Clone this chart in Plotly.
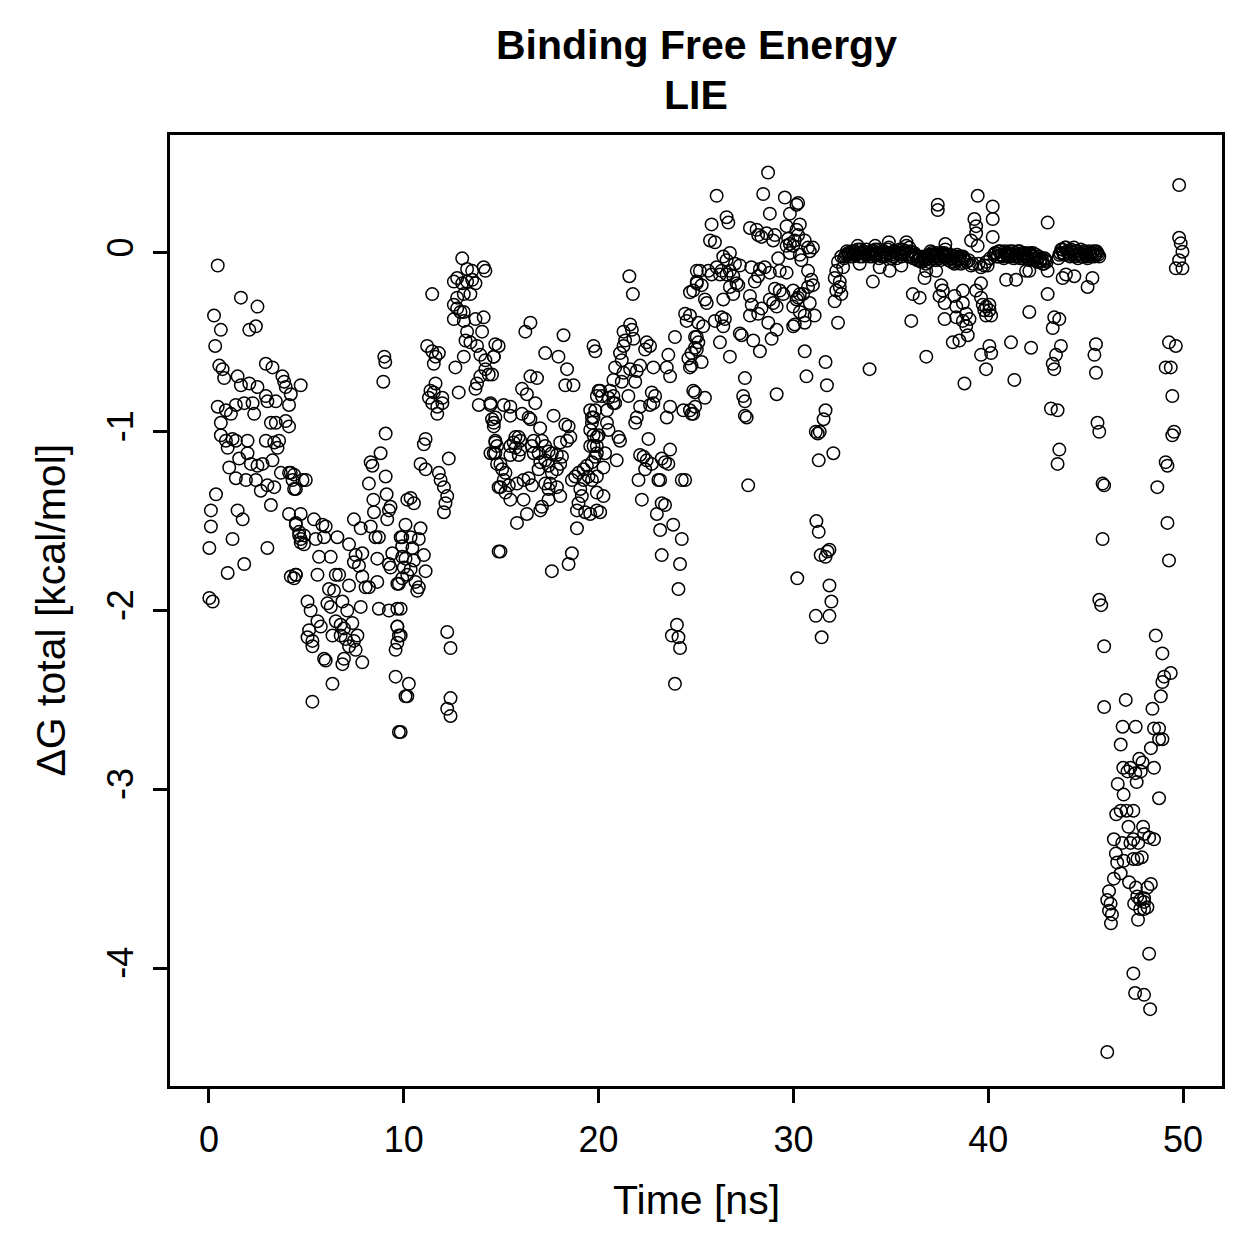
import plotly.graph_objects as go

# ---- data (time [ns], dG total [kcal/mol]) ----
t_a = [0.45,1.64,2.49,0.26,0.61,2.07,2.41,0.32,0.53,0.70,0.78,2.92,3.26,1.47,1.64,2.07,2.49,3.77,3.86,3.94,4.20,4.71,
       0.45,0.87,1.13,1.38,1.81,2.24,2.32,2.92,3.00,3.43,4.11,
       0.61,3.18,3.43,3.94,4.11,
       0.61,0.87,1.21,1.38,1.98,2.92,3.35,3.60,3.52,0.96,
       1.55,1.98,2.15,2.49,2.75,3.26,
       1.04,1.38,1.90,2.41,2.66,3.00,3.35,3.69,4.11,4.29,4.37,4.80,
       0.36,3.18,0.10,1.47,1.73,4.11,4.46,4.63,4.71,0.10,1.21,0.02,3.00,1.81,0.96,4.37,4.46,0.02,0.19]
g_a = [-0.07,-0.25,-0.30,-0.35,-0.43,-0.43,-0.41,-0.52,-0.63,-0.65,-0.70,-0.62,-0.64,-0.69,-0.74,-0.73,-0.75,-0.69,-0.72,-0.75,-0.79,-0.74,
       -0.86,-0.88,-0.90,-0.85,-0.84,-0.84,-0.90,-0.80,-0.83,-0.83,-0.85,
       -0.95,-0.95,-0.95,-0.94,-0.97,
       -1.02,-1.05,-1.04,-1.05,-1.05,-1.05,-1.06,-1.05,-1.09,-1.09,
       -1.15,-1.12,-1.18,-1.19,-1.18,-1.16,
       -1.20,-1.26,-1.27,-1.27,-1.33,-1.30,-1.31,-1.23,-1.23,-1.27,-1.32,-1.27,
       -1.35,-1.41,-1.44,-1.44,-1.49,-1.46,-1.52,-1.58,-1.62,-1.53,-1.60,-1.65,-1.65,-1.74,-1.79,-1.82,-1.80,-1.93,-1.95]

t_b = [9.07,8.81,8.30,8.39,9.07,4.20,4.37,4.97,4.46,8.21,9.12,9.32,9.24,9.15,8.44,8.47,10.18,
       4.71,5.39,4.46,5.82,5.99,7.44,7.79,8.30,
       4.63,4.88,4.71,4.88,5.48,5.91,6.59,7.19,8.55,8.72,9.92,
       5.65,6.25,7.53,7.87,8.64,9.41,9.92,
       7.44,7.70,9.24,9.32,
       5.57,6.51,6.68,4.20,4.46,
       7.19,7.87,8.04,8.21,8.64,9.67,
       6.16,6.42,
       5.06,5.22,6.08,6.25,6.85,7.10,7.79,8.72,9.24,9.67,
       5.57,5.74,6.51,6.76,6.93,7.36,9.67,9.75,9.58,
       5.14,5.06,5.31,5.31,
       6.34,6.76,7.02,7.44,7.62,7.53,7.19,
       5.91,5.99,6.85,6.93,7.87,
       9.58,6.34,5.31,9.75,10.09,
       9.00,9.05,8.95]
g_b = [-1.01,-1.12,-1.17,-1.19,-1.25,-1.23,-1.24,-1.27,-1.32,-1.29,-1.35,-1.42,-1.44,-1.49,-1.38,-1.45,-1.38,
       -1.46,-1.49,-1.51,-1.52,-1.53,-1.49,-1.54,-1.53,
       -1.56,-1.58,-1.60,-1.63,-1.60,-1.59,-1.59,-1.63,-1.59,-1.59,-1.59,
       -1.70,-1.70,-1.69,-1.68,-1.71,-1.68,-1.70,
       -1.73,-1.75,-1.74,-1.76,
       -1.80,-1.80,-1.80,-1.81,-1.80,
       -1.86,-1.81,-1.87,-1.87,-1.84,-1.85,
       -1.88,-1.89,
       -1.95,-2.00,-1.96,-1.98,-1.95,-2.00,-1.98,-1.99,-2.00,-1.99,
       -2.06,-2.09,-2.06,-2.08,-2.10,-2.07,-2.09,-2.14,-2.22,
       -2.11,-2.15,-2.17,-2.20,
       -2.14,-2.14,-2.16,-2.17,-2.14,-2.22,-2.20,
       -2.27,-2.28,-2.30,-2.27,-2.29,
       -2.37,-2.41,-2.51,-2.68,-2.48,
       -0.58,-0.61,-0.72]

t_c = [13.00,13.25,13.51,14.10,14.19,12.74,12.57,13.00,13.25,13.51,13.68,13.42,13.08,12.74,12.57,12.74,12.91,13.08,12.57,13.08,
       13.68,14.10,13.25,13.17,14.02,13.42,13.76,13.93,14.19,14.70,14.62,14.19,14.36,13.93,13.76,13.68,13.85,14.45,14.53,14.62,
       14.70,14.45,14.70,14.79,14.87,14.87,11.46,12.65,13.08,12.82,
       11.20,11.46,11.63,11.54,11.80,
       11.63,11.37,11.29,11.46,11.72,11.98,11.98,11.72,11.54,
       11.12,11.03,12.31,10.86,11.12,
       11.80,11.89,12.06,12.23,12.14,12.06,
       10.35,10.52,
       10.09,10.86,9.84,10.35,10.77,9.92,10.44,11.03,10.09,10.52,10.00,10.35,11.12,10.18,9.92,10.60,10.77,10.69,9.75,
       9.84,9.67,9.84,9.67,12.23,12.40,10.26,10.18,12.40,12.23,12.40,9.84]
g_c = [-0.03,-0.09,-0.10,-0.08,-0.10,-0.14,-0.16,-0.17,-0.16,-0.15,-0.17,-0.23,-0.23,-0.25,-0.29,-0.31,-0.33,-0.33,-0.37,-0.38,
       -0.37,-0.36,-0.44,-0.49,-0.44,-0.50,-0.52,-0.57,-0.60,-0.51,-0.58,-0.65,-0.68,-0.69,-0.73,-0.76,-0.85,-0.85,-0.93,-0.97,
       -1.05,-1.12,-1.12,-1.18,-1.31,-1.67,-0.23,-0.64,-0.58,-0.78,
       -0.52,-0.55,-0.58,-0.62,-0.56,
       -0.73,-0.77,-0.81,-0.84,-0.86,-0.81,-0.84,-0.90,-0.78,
       -1.04,-1.07,-1.15,-1.18,-1.21,
       -1.23,-1.27,-1.31,-1.36,-1.40,-1.45,
       -1.37,-1.40,
       -1.52,-1.54,-1.59,-1.59,-1.60,-1.64,-1.65,-1.69,-1.71,-1.72,-1.76,-1.77,-1.78,-1.80,-1.82,-1.84,-1.87,-1.89,-1.85,
       -1.99,-2.09,-2.14,-2.18,-2.12,-2.21,-2.41,-2.48,-2.49,-2.55,-2.59,-2.68]

t_d = [16.50,16.24,18.20,19.74,19.83,17.26,17.94,14.87,14.62,14.53,18.38,18.29,18.71,
       16.50,16.84,16.07,16.32,16.75,17.69,16.41,16.50,
       14.45,14.70,14.62,15.13,15.47,15.47,16.07,
       17.00,16.67,16.58,16.67,17.09,17.26,16.92,17.43,17.60,17.86,18.12,18.03,17.86,17.60,17.43,17.26,17.01,16.92,17.26,17.52,
       17.86,18.03,17.43,17.09,17.01,
       18.29,18.46,18.55,18.38,18.03,
       15.73,15.90,15.98,15.64,15.47,15.73,15.98,15.90,15.47,14.79,14.70,14.62,14.96,15.05,15.22,15.13,14.96,15.39,15.22,15.47,
       15.81,16.15,16.41,16.58,16.15,16.32,15.81,17.43,
       18.89,
       18.63,18.80,18.97,19.23,19.40,19.66,19.83,19.91,20.00,19.74,19.57,19.48,19.23,19.06,19.14,18.97,18.89,19.31,19.91,19.91,
       19.57,19.66,19.91,20.00,
       14.96,17.60,18.46,18.63]
g_d = [-0.39,-0.44,-0.46,-0.52,-0.55,-0.56,-0.58,-0.52,-0.58,-0.68,-0.65,-0.74,-0.74,
       -0.69,-0.70,-0.76,-0.79,-0.84,-0.91,-0.92,-0.93,
       -0.84,-0.92,-0.95,-0.85,-0.86,-0.91,-0.90,
       -0.98,-1.05,-1.08,-1.12,-1.05,-1.08,-1.12,-1.11,-1.12,-1.13,-1.14,-1.18,-1.21,-1.23,-1.19,-1.16,-1.17,-1.21,-1.29,-1.29,
       -1.31,-1.36,-1.38,-1.42,-1.44,
       -0.96,-0.97,-1.03,-1.05,-1.06,
       -1.03,-1.03,-1.05,-1.06,-1.08,-1.09,-1.10,-1.13,-1.13,-1.08,-1.06,-1.12,-1.18,-1.21,-1.23,-1.27,-1.31,-1.30,-1.34,-1.38,
       -1.29,-1.27,-1.26,-1.30,-1.38,-1.46,-1.51,-1.32,
       -1.54,
       -1.27,-1.25,-1.23,-1.21,-1.19,-1.17,-1.14,-1.08,-1.02,-1.02,-1.08,-1.25,-1.27,-1.32,-1.36,-1.40,-1.44,-1.45,-1.34,-1.44,
       -0.88,-0.92,-0.80,-0.77,
       -1.67,-1.78,-1.74,-1.68]

t_e = [21.58,21.76,25.04,25.04,24.69,24.44,24.52,23.92,25.04,25.04,
       21.62,21.28,21.71,21.36,21.79,21.28,21.10,21.19,22.47,22.64,22.39,23.58,24.61,24.69,
       20.85,21.28,21.62,21.96,22.13,22.81,23.50,23.67,21.19,21.88,
       20.76,20.59,20.76,20.85,20.08,20.17,20.51,21.53,19.83,19.74,19.66,20.43,20.43,20.51,20.76,
       22.73,22.90,22.64,22.81,22.13,21.96,21.88,23.67,23.50,24.35,24.69,24.77,24.95,
       19.57,19.91,19.74,19.91,20.33,21.02,21.10,20.93,20.25,19.91,19.66,19.57,20.08,20.25,22.56,22.13,22.31,22.47,22.73,22.39,
       22.05,22.22,23.24,23.41,23.58,23.67,23.07,23.16,23.24,23.41,22.99,23.16,23.83,24.27,23.24,24.18,24.10,24.02,23.76,24.10,
       24.18,23.92,24.27,24.44]
g_e = [-0.13,-0.23,-0.10,-0.17,-0.22,-0.34,-0.38,-0.47,-0.47,-0.54,
       -0.40,-0.44,-0.43,-0.49,-0.48,-0.52,-0.56,-0.60,-0.50,-0.52,-0.54,-0.57,-0.59,-0.64,
       -0.64,-0.67,-0.65,-0.66,-0.63,-0.64,-0.64,-0.69,-0.72,-0.72,
       -0.71,-0.77,-0.80,-0.84,-0.77,-0.80,-0.81,-0.80,-0.88,-0.92,-0.95,-0.88,-0.95,-0.99,-0.84,
       -0.78,-0.80,-0.85,-0.84,-0.86,-0.92,-0.95,-0.86,-0.92,-0.88,-0.88,-0.90,-0.78,
       -0.99,-1.03,-1.08,-1.12,-1.12,-1.03,-1.05,-1.16,-1.20,-1.25,-1.27,-1.46,-1.45,-1.36,-1.04,-1.13,-1.14,-1.16,-1.18,-1.21,
       -1.27,-1.38,-1.15,-1.17,-1.18,-1.10,-1.27,-1.27,-1.40,-1.41,-1.46,-1.55,-1.52,-1.60,-1.69,-1.74,-1.88,-2.08,-2.14,-2.15,
       -2.21,-2.41,-1.27,-1.27]

t_f = [28.70,26.06,28.45,29.56,29.82,30.16,28.79,26.57,26.66,25.80,
       27.77,28.11,28.19,28.36,28.62,29.05,28.96,29.65,29.73,29.82,30.07,30.16,
       25.72,25.97,
       26.74,26.40,26.57,29.22,29.65,29.82,29.99,
       25.20,25.63,26.06,26.31,26.74,27.00,27.25,25.80,26.23,26.57,26.91,27.08,25.04,25.29,24.86,27.84,28.28,28.53,28.79,28.19,
       29.30,29.65,
       28.02,26.74,27.17,26.91,26.40,25.46,25.55,27.77,27.86,29.05,29.30,29.48,29.99,30.33,28.79,28.96,29.14,28.36,28.19,27.77,
       29.99,30.16,
       24.69,25.12,25.37,25.97,26.31,26.48,26.40,24.95,25.12,24.95,24.77,24.77,25.29,26.23,26.74,27.25,27.34,27.94,28.28,28.71,
       28.88,29.14,29.99,
       27.51,27.42,27.51,27.51,27.60,29.14,24.86,25.46,24.95,24.86,27.68]
g_f = [0.45,0.32,0.33,0.31,0.22,0.27,0.22,0.20,0.17,0.16,
       0.14,0.13,0.10,0.09,0.11,0.10,0.07,0.15,0.08,0.05,0.07,0.13,
       0.07,0.06,
       0.00,-0.02,-0.04,-0.03,0.04,0.00,0.04,
       -0.10,-0.10,-0.08,-0.10,-0.10,-0.06,-0.07,-0.12,-0.12,-0.12,-0.13,-0.17,-0.16,-0.18,-0.21,-0.08,-0.09,-0.08,-0.11,-0.13,
       -0.10,-0.11,
       -0.16,-0.19,-0.18,-0.23,-0.26,-0.26,-0.28,-0.24,-0.29,-0.20,-0.21,-0.23,-0.21,-0.23,-0.26,-0.28,-0.30,-0.31,-0.34,-0.35,
       -0.30,-0.26,
       -0.35,-0.39,-0.41,-0.38,-0.36,-0.37,-0.41,-0.47,-0.50,-0.53,-0.56,-0.63,-0.61,-0.50,-0.58,-0.45,-0.46,-0.49,-0.55,-0.39,
       -0.48,-0.43,-0.41,
       -0.70,-0.80,-0.83,-0.91,-0.92,-0.79,-0.77,-0.81,-0.86,-0.90,-1.30]

t_g = [30.24,30.33,30.24,30.58,30.75,31.00,30.84,30.33,30.41,30.75,30.92,31.00,30.75,30.50,30.24,30.84,30.33,30.58,31.09,30.07,30.58,
       32.46,32.29,32.55,32.20,32.12,32.38,32.38,32.46,32.20,32.12,32.29,
       30.58,30.67,31.65,31.72,31.65,31.55,31.35,31.15,31.25,32.05,31.30,
       31.18,31.30,31.40,31.75,31.65,31.85,30.20,31.85,31.95,31.15,31.85,31.45]
g_g = [0.28,0.16,0.10,0.07,0.03,0.03,0.01,-0.01,-0.04,-0.10,-0.15,-0.18,-0.19,-0.23,-0.25,-0.28,-0.33,-0.35,-0.35,-0.40,-0.39,
       -0.02,-0.05,-0.08,-0.10,-0.14,-0.16,-0.19,-0.23,-0.21,-0.27,-0.39,
       -0.55,-0.69,-0.61,-0.74,-0.88,-0.93,-1.00,-1.00,-1.01,-1.12,-1.16,
       -1.50,-1.56,-1.69,-1.67,-1.70,-1.66,-1.82,-1.86,-1.95,-2.03,-2.03,-2.15]

t_band1 = [32.6,32.7,32.8,32.9,33.0,33.1,33.2,33.3,33.4,33.5,33.6,33.7,33.8,33.9,34.0,34.1,34.2,34.3,34.4,34.5,34.6,
           34.7,34.8,34.9,35.0,35.1,35.2,35.3,35.4,35.5,35.6,35.7,35.8,35.9,36.0,36.1,36.2,36.3,36.4,36.5,36.6,36.7,
           36.8,36.9,37.0,37.1,37.2,37.3,37.4,37.5,37.6,37.7,37.8,37.9,38.0,38.1,38.2,38.3,38.4,38.5,38.6,38.7,38.8,
           38.9,39.0,39.2,39.5,39.9,40.1]
g_band1 = [-0.03,-0.01,0.00,-0.02,0.01,-0.01,0.00,0.02,-0.02,0.00,0.01,-0.01,0.00,-0.02,0.01,-0.01,0.02,0.00,-0.03,-0.01,0.01,
           -0.02,0.00,0.03,-0.01,-0.02,0.01,-0.03,0.00,-0.01,0.02,0.00,0.04,-0.02,0.01,-0.01,0.00,-0.02,-0.04,-0.03,-0.05,-0.02,
           -0.06,-0.03,-0.01,0.00,-0.02,-0.04,-0.01,-0.03,0.00,-0.02,0.02,-0.01,-0.03,-0.05,-0.02,-0.04,-0.01,-0.03,-0.06,-0.02,-0.04,
           -0.05,-0.04,-0.06,-0.06,-0.05,-0.03]

t_band1b = [32.65,32.75,32.85,32.95,
            33.05,33.15,33.25,33.35,33.45,33.55,33.65,33.75,33.85,33.95,
            34.05,34.15,34.25,34.35,34.45,34.55,34.65,34.75,34.85,34.95,
            35.05,35.15,35.25,35.35,35.45,35.55,35.65,35.75,35.85,35.95,
            36.05,36.15,36.25,36.35,36.45,36.55,36.65,36.75,36.85,36.95,
            37.05,37.15,37.25,37.35,37.45,37.55,37.65,37.75,37.85,37.95,
            38.05,38.15,38.25,38.35,38.45,38.55,38.65,38.75]
g_band1b = [-0.02,0.01,-0.01,0.00,
            -0.02,0.01,-0.01,0.00,0.02,-0.02,0.00,0.02,-0.01,0.00,
            -0.02,0.01,-0.01,0.02,0.00,-0.02,0.01,-0.01,0.02,0.00,
            -0.03,0.01,-0.01,0.00,0.02,-0.02,0.00,0.01,-0.01,0.03,
            -0.01,-0.03,-0.01,-0.04,-0.02,-0.05,-0.03,-0.04,-0.02,-0.05,
            0.01,-0.01,-0.03,0.00,-0.02,-0.04,-0.01,0.00,-0.02,-0.04,
            -0.01,-0.03,-0.05,-0.02,-0.04,-0.02,-0.05,-0.03]

t_h = [33.3,34.2,34.9,35.8,37.8,37.41,37.41,39.46,40.23,40.23,39.29,39.38,39.38,40.23,39.12,39.46,
       33.4,34.43,34.94,34.08,35.54,36.82,36.73,37.33,37.59,36.13,36.48,37.67,37.50,37.76,38.27,38.70,38.36,38.70,38.87,39.04,
       39.38,39.63,39.63,39.72,37.76,38.36,38.70,38.87,38.95,38.52,38.18,39.80,40.06,39.89,36.05,36.82,33.91,38.78,39.63,40.06,
       40.15,39.89,39.63,39.80,39.12,38.27]
g_h = [0.04,0.04,0.06,0.06,0.05,0.27,0.24,0.32,0.26,0.19,0.19,0.15,0.11,0.09,0.07,0.04,
       -0.06,-0.08,-0.10,-0.16,-0.07,-0.10,-0.14,-0.10,-0.18,-0.23,-0.25,-0.21,-0.24,-0.28,-0.24,-0.21,-0.30,-0.28,-0.34,-0.37,
       -0.21,-0.17,-0.25,-0.29,-0.37,-0.36,-0.38,-0.41,-0.46,-0.49,-0.50,-0.32,-0.32,-0.35,-0.38,-0.58,-0.65,-0.73,-0.57,-0.52,
       -0.56,-0.65,-0.08,-0.07,-0.07,-0.06]

t_band2 = [40.3,40.4,40.5,40.6,40.7,40.8,40.9,41.0,41.1,41.2,41.3,41.4,41.5,41.6,41.7,41.8,41.9,42.0,42.1,42.2,42.3,42.4,
           42.5,42.6,42.7,42.8,42.9,43.0,
           43.6,43.7,43.8,43.9,44.0,44.1,44.2,44.3,44.4,44.5,44.6,44.7,44.8,44.9,45.0,45.1,45.2,45.3,45.4,45.5,45.6,45.7]
g_band2 = [-0.01,0.00,-0.02,0.01,-0.01,-0.03,0.00,-0.02,0.01,-0.01,-0.03,0.00,-0.02,0.01,-0.01,-0.03,0.00,-0.02,-0.04,-0.01,
           0.00,-0.03,-0.05,-0.02,-0.04,-0.06,-0.03,-0.05,
           -0.03,0.00,0.02,-0.01,0.03,0.00,-0.02,0.01,0.03,-0.01,-0.03,0.00,-0.02,0.01,-0.01,-0.03,0.00,-0.02,0.01,-0.01,0.00,-0.02]

t_band2b = [40.35,40.45,40.55,40.65,40.75,40.85,40.95,
            41.05,41.15,41.25,41.35,41.45,41.55,41.65,41.75,41.85,41.95,
            42.05,42.15,42.25,42.35,42.45,42.55,42.65,42.75,42.85,42.95,
            43.65,43.75,43.85,43.95,
            44.05,44.15,44.25,44.35,44.45,44.55,44.65,44.75,44.85,44.95,
            45.05,45.15,45.25,45.35,45.45,45.55,45.65]
g_band2b = [0.00,-0.02,0.01,-0.01,-0.02,0.01,-0.01,
            0.00,-0.02,0.01,-0.02,-0.01,0.01,-0.03,0.00,-0.02,-0.01,
            -0.03,0.00,-0.02,-0.04,-0.01,-0.03,-0.05,-0.03,-0.06,-0.04,
            -0.01,0.02,0.00,0.03,
            0.01,-0.01,0.02,0.00,-0.02,0.01,-0.01,0.02,-0.02,0.00,
            -0.02,0.01,-0.01,0.00,-0.02,0.01,-0.01]

t_i = [43.05,39.97,40.92,41.43,41.94,42.11,43.05,43.82,43.99,44.42,45.10,45.35,43.05,42.11,43.39,43.65,43.31,40.06,40.15,
       39.89,41.17,42.20,43.73,43.48,43.31,43.39,45.53,45.45,45.53,41.34,43.22,43.56,43.65,43.56,45.61,45.70,
       45.87,45.95,45.87,45.70,45.80,45.95,45.95]
g_i = [0.17,-0.07,-0.15,-0.15,-0.10,-0.10,-0.10,-0.14,-0.12,-0.13,-0.19,-0.14,-0.23,-0.33,-0.36,-0.37,-0.42,-0.29,-0.35,
       -0.30,-0.50,-0.53,-0.52,-0.57,-0.62,-0.65,-0.51,-0.57,-0.67,-0.71,-0.87,-0.88,-1.10,-1.18,-0.95,-1.00,
       -1.29,-1.30,-1.60,-1.94,-1.97,-2.20,-2.54]

t_j = [47.06,46.90,47.57,46.80,46.93,47.15,47.30,47.55,47.62,46.65,46.95,46.57,46.80,47.10,47.45,47.20,46.45,46.88,47.30,
       47.45,47.70,47.95,46.55,46.62,46.95,47.45,47.88,46.45,46.80,47.23,46.20,46.11,46.28,46.20,46.35,46.30,47.49,47.65,
       47.80,47.80,47.69,48.00,48.26,47.45,47.54,48.00,48.31,46.11]
g_j = [-2.50,-2.65,-2.65,-2.75,-2.88,-2.90,-2.88,-2.91,-2.96,-2.97,-3.03,-3.14,-3.12,-3.12,-3.12,-3.21,-3.28,-3.30,-3.30,
       -3.28,-3.30,-3.21,-3.36,-3.41,-3.40,-3.39,-3.38,-3.50,-3.47,-3.52,-3.57,-3.62,-3.64,-3.68,-3.70,-3.75,-3.64,-3.60,
       -3.62,-3.67,-3.73,-3.63,-3.92,-4.03,-4.14,-4.15,-4.23,-4.47]

t_k = [49.80,49.80,49.88,49.97,49.80,49.63,49.97,49.28,49.63,49.11,49.37,49.45,49.45,49.54,49.11,49.20,48.68,49.20,49.28,
       48.60,48.94,49.37,49.03,48.94,48.86,48.43,48.51,48.77,48.77,48.94,48.35,47.75,47.92,47.83,48.51,48.77,48.00,48.26,
       48.51,47.66,47.58,48.17,48.35,48.00,48.00,48.17]
g_k = [0.38,0.085,0.054,0.007,-0.04,-0.086,-0.086,-0.50,-0.52,-0.64,-0.64,-0.80,-1.02,-1.00,-1.17,-1.19,-1.31,-1.51,-1.72,
       -2.14,-2.24,-2.35,-2.37,-2.40,-2.48,-2.55,-2.66,-2.66,-2.72,-2.72,-2.77,-2.83,-2.85,-2.90,-2.88,-3.05,-3.25,-3.27,
       -3.28,-3.39,-3.55,-3.55,-3.53,-3.61,-3.67,-3.66]

x_ticks = [0, 10, 20, 30, 40, 50]
y_ticks = [0, -1, -2, -3, -4]
title_line1 = "Binding Free Energy"
title_line2 = "LIE"
x_label = "Time [ns]"
y_label = "ΔG total [kcal/mol]"

time_ns = (t_a + t_b + t_c + t_d + t_e + t_f + t_g + t_band1 + t_band1b + t_h
           + t_band2 + t_band2b + t_i + t_j + t_k)
dg_total = (g_a + g_b + g_c + g_d + g_e + g_f + g_g + g_band1 + g_band1b + g_h
            + g_band2 + g_band2b + g_i + g_j + g_k)

FONT = "Liberation Sans, Arial, Helvetica, sans-serif"

fig = go.Figure()
fig.add_trace(go.Scatter(
    x=time_ns, y=dg_total, mode="markers",
    marker=dict(symbol="circle-open", size=12.5, color="black", line=dict(width=1.5, color="black")),
    showlegend=False, hoverinfo="x+y"))

axis_common = dict(showgrid=False, zeroline=False, showline=True, mirror=True,
                   linecolor="black", linewidth=2.5, ticks="outside", ticklen=14,
                   tickwidth=2.5, tickcolor="black",
                   tickfont=dict(family=FONT, size=36, color="black"))

fig.update_layout(
    width=1259, height=1259,
    margin=dict(l=170, r=37, t=135, b=173),
    paper_bgcolor="white", plot_bgcolor="white",
    xaxis=dict(range=[-2, 52], tickvals=x_ticks, ticktext=[str(v) for v in x_ticks],
               ticklabelstandoff=6, **axis_common),
    yaxis=dict(range=[-4.66, 0.66], tickvals=y_ticks, ticktext=[str(v) for v in y_ticks],
               tickangle=-90, ticklabelstandoff=6, **axis_common),
    annotations=[
        dict(text="<b>%s</b>" % title_line1, x=0.5, y=1.0947, xref="paper", yref="paper",
             showarrow=False, xanchor="center", yanchor="middle",
             font=dict(family=FONT, size=41, color="black")),
        dict(text="<b>%s</b>" % title_line2, x=0.5, y=1.042, xref="paper", yref="paper",
             showarrow=False, xanchor="center", yanchor="middle",
             font=dict(family=FONT, size=41, color="black")),
        dict(text=x_label, x=0.5, y=-0.1199, xref="paper", yref="paper",
             showarrow=False, xanchor="center", yanchor="middle",
             font=dict(family=FONT, size=41, color="black")),
        dict(text=y_label, x=-0.114, y=0.5, xref="paper", yref="paper", textangle=-90,
             showarrow=False, xanchor="center", yanchor="middle",
             font=dict(family=FONT, size=41, color="black")),
    ],
)

fig.write_html("out.html")
